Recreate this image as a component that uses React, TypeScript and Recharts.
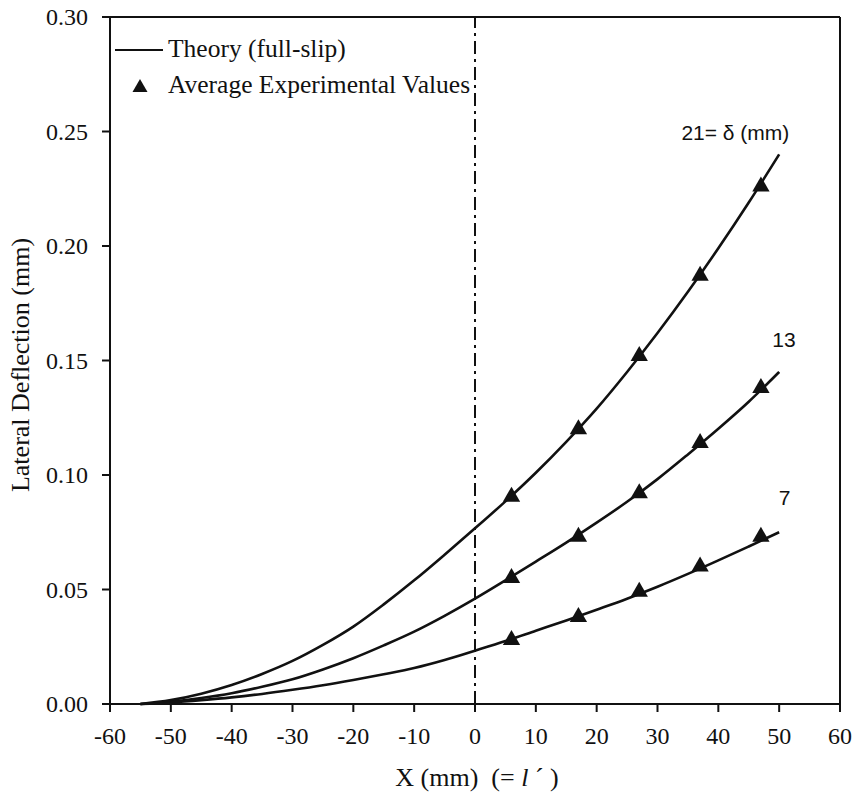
import React from 'react';
import {
    ComposedChart,
    Line,
    Scatter,
    XAxis,
    YAxis,
    ZAxis,
    ReferenceLine,
    ReferenceDot,
} from 'recharts';

// x positions along the pile (mm)
const theoryX = [-55, -50, -45, -40, -35, -30, -25, -20, -15, -10, -5, 0, 5, 10, 15, 20, 25, 30, 35, 40, 45, 50];
const theory21 = [0, 0.0017, 0.0045, 0.0083, 0.0131, 0.0188, 0.0258, 0.0338, 0.0435, 0.054, 0.0652, 0.0767, 0.0885, 0.101, 0.1145, 0.129, 0.145, 0.162, 0.18, 0.199, 0.219, 0.24];
const theory13 = [0, 0.001, 0.0026, 0.0047, 0.0075, 0.0108, 0.0151, 0.02, 0.0256, 0.0316, 0.0385, 0.046, 0.054, 0.0622, 0.0705, 0.0792, 0.0883, 0.0982, 0.109, 0.1202, 0.132, 0.145];
const theory7 = [0, 0.0007, 0.0017, 0.0029, 0.0044, 0.0062, 0.0082, 0.0105, 0.013, 0.0157, 0.0192, 0.0233, 0.0275, 0.032, 0.0365, 0.0412, 0.046, 0.0512, 0.0568, 0.0627, 0.0688, 0.075];

const expX = [6, 17, 27, 37, 47];
const exp21 = [0.0905, 0.12, 0.152, 0.187, 0.226];
const exp13 = [0.055, 0.073, 0.092, 0.114, 0.138];
const exp7 = [0.028, 0.038, 0.049, 0.06, 0.073];

const xTicks = [-60, -50, -40, -30, -20, -10, 0, 10, 20, 30, 40, 50, 60];
const yTicks = [0, 0.05, 0.1, 0.15, 0.2, 0.25, 0.3];

const toPoints = (xs: number[], ys: number[]) => xs.map((x, i) => ({ x, y: ys[i] }));

const serif = '"Liberation Serif", "Times New Roman", serif';
const sans = '"Liberation Sans", Arial, sans-serif';

const XTick = (props: any) => {
    const { x, y, payload } = props;
    return (
        <text x={x} y={y} dy={18} textAnchor="middle" fill="#111"
            style={{ fontFamily: serif, fontSize: 24 }}>
            {payload.value}
        </text>
    );
};

const YTick = (props: any) => {
    const { x, y, payload } = props;
    return (
        <text x={x} y={y} dy={8} textAnchor="end" fill="#111"
            style={{ fontFamily: serif, fontSize: 24 }}>
            {Number(payload.value).toFixed(2)}
        </text>
    );
};

const curveLabel = (text: string) => (props: any) => {
    const { viewBox } = props;
    return (
        <text x={viewBox.x} y={viewBox.y} textAnchor="middle" dominantBaseline="central" fill="#111"
            style={{ fontFamily: sans, fontSize: 21 }}>
            {text}
        </text>
    );
};

const App: React.FC = () => {
    return (
        <div style={{ position: 'absolute', left: 0, top: 0, width: 856, height: 797, background: '#fff', fontFamily: serif }}>
            <ComposedChart width={856} height={797} margin={{ top: 17, right: 16, bottom: 0, left: 0 }}
                style={{ fontFamily: serif }}>
                <XAxis
                    type="number"
                    dataKey="x"
                    domain={[-60, 60]}
                    ticks={xTicks}
                    allowDataOverflow
                    height={93}
                    stroke="#111"
                    strokeWidth={2}
                    tickSize={8}
                    tickMargin={14}
                    tick={XTick}
                    label={{
                        content: () => (
                            <text x={477} y={786} textAnchor="middle" fill="#111"
                                style={{ whiteSpace: 'pre', fontFamily: serif, fontSize: 26 }}>
                                X (mm)  (= <tspan fontStyle="italic">l</tspan> ´ )
                            </text>
                        ),
                    }}
                />
                <YAxis
                    type="number"
                    dataKey="y"
                    domain={[0, 0.3]}
                    ticks={yTicks}
                    width={110}
                    stroke="#111"
                    strokeWidth={2}
                    tickSize={8}
                    tickMargin={14}
                    tick={YTick}
                    label={{
                        content: () => (
                            <text x={29} y={365} transform="rotate(-90 29 365)" textAnchor="middle" fill="#111"
                                style={{ fontFamily: serif, fontSize: 26 }}>
                                Lateral Deflection (mm)
                            </text>
                        ),
                    }}
                />
                <ZAxis type="number" range={[130, 130]} />
                <ReferenceLine y={0.3} stroke="#111" strokeWidth={2} />
                <ReferenceLine x={60} stroke="#111" strokeWidth={2} />
                <ReferenceLine x={0} stroke="#111" strokeWidth={2} strokeDasharray="13 5 3 5" />

                <Line data={toPoints(theoryX, theory21)} dataKey="y" type="monotone" stroke="#111" strokeWidth={2.6} dot={false} isAnimationActive={false} />
                <Line data={toPoints(theoryX, theory13)} dataKey="y" type="monotone" stroke="#111" strokeWidth={2.6} dot={false} isAnimationActive={false} />
                <Line data={toPoints(theoryX, theory7)} dataKey="y" type="monotone" stroke="#111" strokeWidth={2.6} dot={false} isAnimationActive={false} />

                <Scatter data={toPoints(expX, exp21)} shape="triangle" fill="#111" isAnimationActive={false} />
                <Scatter data={toPoints(expX, exp13)} shape="triangle" fill="#111" isAnimationActive={false} />
                <Scatter data={toPoints(expX, exp7)} shape="triangle" fill="#111" isAnimationActive={false} />

                <ReferenceDot x={42.8} y={0.2495} r={0} label={{ content: curveLabel('21= δ (mm)') }} />
                <ReferenceDot x={50.8} y={0.159} r={0} label={{ content: curveLabel('13') }} />
                <ReferenceDot x={50.9} y={0.09} r={0} label={{ content: curveLabel('7') }} />
            </ComposedChart>
            {/* legend, top-left inside plot */}
            <svg style={{ position: 'absolute', left: 0, top: 0 }} width={856} height={120}>
                <line x1={115} y1={50} x2={163} y2={50} stroke="#111" strokeWidth={2} />
                <text x={168} y={57} fill="#111" style={{ fontFamily: serif, fontSize: 25.5 }}>Theory (full-slip)</text>
                <path d="M140,79 L147.5,92 L132.5,92 Z" fill="#111" />
                <text x={168} y={93} fill="#111" style={{ fontFamily: serif, fontSize: 25.5 }}>Average Experimental Values</text>
            </svg>
        </div>
    );
};

export default App;
